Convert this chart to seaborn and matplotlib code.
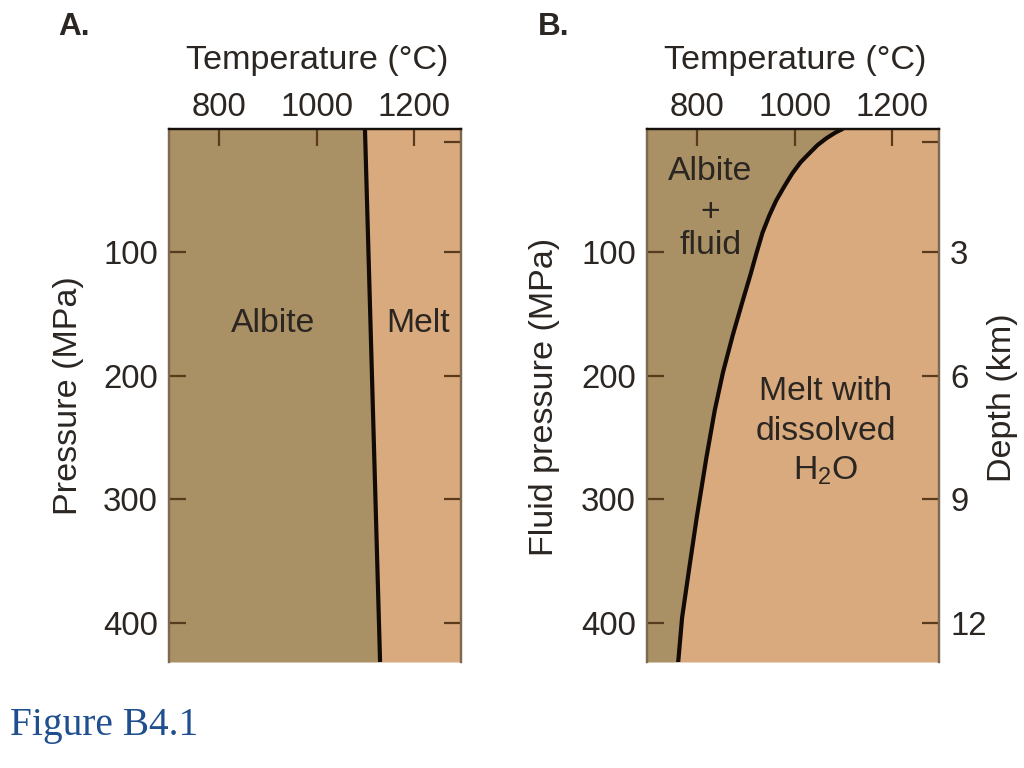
import matplotlib
matplotlib.use("Agg")
import matplotlib.pyplot as plt
import pandas as pd
import seaborn as sns

# values
temp_ticks = [800, 1000, 1200]
pressure_ticks = [100, 200, 300, 400]
right_ticks = [10.8, 100, 200, 300, 400]
depth_labels = ["", "3", "6", "9", "12"]

albite_pressure = [0, 432]
albite_temp = [1099, 1130]

fluid_pressure = [0, 3, 7.5, 13, 19.7, 27, 36, 47, 58, 70, 84, 100, 117, 141, 167, 197, 228, 266, 315, 355, 396, 432]
fluid_temp = [1098, 1083, 1065, 1047, 1030, 1012, 995, 978, 962, 948, 934, 922, 910, 892, 873, 853, 836, 819, 799, 784, 769, 761]

albite_color = "#aa9065"
melt_color = "#d9aa7e"
text_color = "#2b2622"
tick_color = "#5a3a1c"
side_color = "#7d6850"

sns.set_theme(style="white")
plt.rcParams["font.family"] = ["Liberation Sans", "DejaVu Sans"]
plt.rcParams["mathtext.fontset"] = "custom"
plt.rcParams["mathtext.rm"] = "Liberation Sans"
plt.rcParams["mathtext.default"] = "regular"
fs = 23.7
label_fs = 24.6

fig = plt.figure(figsize=(10.24, 7.68), dpi=100)


def make_panel(left_px, temps, pressures, ylabel, ylabel_x, ylabel_y, letter, letter_x, labels):
    ax = fig.add_axes([left_px / 1024, 1 - 662 / 768, 292 / 1024, 533 / 768])
    df = pd.DataFrame({"temp": temps, "pressure": pressures})
    xmin, xmax = 697, 1296
    ax.fill_betweenx(pressures, xmin, temps, color=albite_color, lw=0)
    ax.fill_betweenx(pressures, temps, xmax, color=melt_color, lw=0)
    sns.lineplot(data=df, x="temp", y="pressure", orient="y", sort=False,
                 color="#120a06", lw=3, ax=ax)
    ax.set_xlim(xmin, xmax)
    ax.set_ylim(432, 0)
    # seaborn white style puts ticks under the fills otherwise
    ax.set_axisbelow(False)

    ax.xaxis.tick_top()
    ax.set_xticks(temp_ticks)
    ax.set_yticks(pressure_ticks)
    ax.tick_params(axis="x", direction="in", length=12, width=1.6, color=tick_color,
                   labelsize=fs, labelcolor=text_color, pad=4.5)
    ax.tick_params(axis="y", direction="in", length=12, width=1.6, color=tick_color,
                   labelsize=fs, labelcolor=text_color, pad=8, left=True)
    ax.xaxis.set_label_position("top")
    ax.set_xlabel("Temperature (°C)", fontsize=label_fs, color=text_color)
    ax.xaxis.set_label_coords(0.507, 1 + 68 / 533, transform=ax.transAxes)
    ax.xaxis.label.set_verticalalignment("center")
    ax.set_ylabel(ylabel, fontsize=label_fs, color=text_color)
    ax.yaxis.set_label_coords((ylabel_x - left_px) / 292, (662 - ylabel_y) / 533)
    ax.yaxis.label.set_verticalalignment("center")

    right = ax.twinx()
    right.set_ylim(432, 0)
    right.set_yticks(right_ticks)
    right.set_yticklabels(labels)
    right.tick_params(axis="y", direction="in", length=12, width=1.6, color=tick_color,
                      labelsize=fs, labelcolor=text_color, pad=8, right=True)
    right.grid(False)
    ax.grid(False)

    for a in (ax, right):
        a.spines["bottom"].set_visible(False)
        a.spines["top"].set_color("#15100c")
        a.spines["top"].set_linewidth(1.6)
        a.spines["left"].set_color(side_color)
        a.spines["right"].set_color(side_color)
        a.spines["left"].set_linewidth(1.6)
        a.spines["right"].set_linewidth(1.6)

    fig.text(letter_x / 1024, 1 - 27 / 768, letter, fontsize=fs - 1, fontweight="bold",
             color=text_color, ha="center", va="center")
    return ax, right


make_panel(169, albite_temp, albite_pressure, "Pressure (MPa)", 68, 396, "A.", 74,
           [""] * len(right_ticks))
ax_b, right_b = make_panel(647, fluid_temp, fluid_pressure, "Fluid pressure (MPa)", 545, 397,
                           "B.", 554, depth_labels)
right_b.set_ylabel("Depth (km)", fontsize=label_fs, color=text_color)
right_b.yaxis.set_label_coords((1003 - 647) / 292, (662 - 398) / 533)
right_b.yaxis.label.set_verticalalignment("center")

region_labels = [
    ("Albite", 273, 324),
    ("Melt", 418, 324),
    ("Albite", 710, 172),
    ("+", 710, 212),
    ("fluid", 711, 246),
    ("Melt with", 826, 392),
    ("dissolved", 826, 431),
    ("H$_2$O", 826, 471),
]
for label, px, py in region_labels:
    fig.text(px / 1024, 1 - py / 768, label, fontsize=24.3, color=text_color,
             ha="center", va="center", zorder=10)

fig.text(10 / 1024, 1 - 726 / 768, "Figure B4.1", fontsize=28.4, color="#1f4f8f",
         family=["Liberation Serif", "DejaVu Serif"], ha="left", va="center")

fig.savefig("out.png", dpi=100, facecolor="white")
